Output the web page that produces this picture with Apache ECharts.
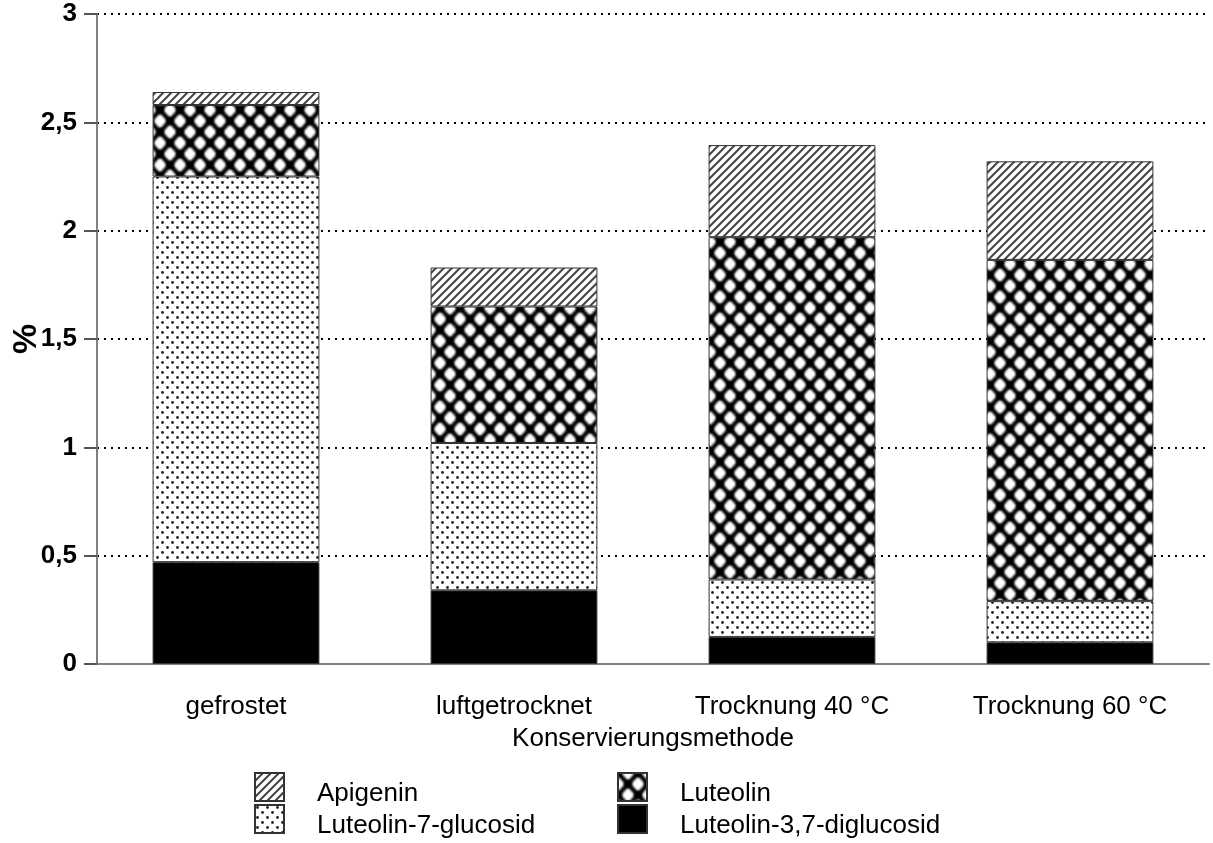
<!DOCTYPE html>
<html>
<head>
<meta charset="utf-8">
<script src="https://cdn.jsdelivr.net/npm/echarts@6/dist/echarts.min.js"></script>
<style>
html,body{margin:0;padding:0;background:#fff;}
#chart{width:1213px;height:843px;}
</style>
</head>
<body>
<div id="chart"></div>
<script>
// ---- data ----
var categories = ['gefrostet', 'luftgetrocknet', 'Trocknung 40 °C', 'Trocknung 60 °C'];
var seriesNames = ['Luteolin-3,7-diglucosid', 'Luteolin-7-glucosid', 'Luteolin', 'Apigenin'];
var diglucosid = [0.47, 0.34, 0.125, 0.10];
var glucosid   = [1.78, 0.68, 0.265, 0.19];
var luteolin   = [0.33, 0.63, 1.58, 1.575];
var apigenin   = [0.06, 0.18, 0.425, 0.455];
var yTicks = [0, 0.5, 1, 1.5, 2, 2.5, 3];

// ---- patterns ----
function makeCanvas(w, h) {
  var c = document.createElement('canvas');
  c.width = w; c.height = h;
  return c;
}
function dotsPattern() {
  var c = makeCanvas(10, 10), g = c.getContext('2d');
  g.fillStyle = '#fff'; g.fillRect(0, 0, 10, 10);
  g.fillStyle = '#222';
  [[2.5, 2.5], [7.5, 7.5]].forEach(function (p) {
    g.beginPath(); g.arc(p[0], p[1], 1.4, 0, Math.PI * 2); g.fill();
  });
  return c;
}
function crossPattern() {
  var W = 20, H = 22;
  var c = makeCanvas(W, H), g = c.getContext('2d');
  g.fillStyle = '#fff'; g.fillRect(0, 0, W, H);
  g.filter = 'blur(0.8px)';
  g.strokeStyle = '#000'; g.lineWidth = 4.5; g.lineCap = 'square';
  var lines = [[0, 0, W, H], [W, 0, 0, H], [-W, 0, W, 2 * H], [0, -H, 2 * W, H], [2 * W, 0, 0, 2 * H], [W, -H, -W, H]];
  lines.forEach(function (l) {
    g.beginPath(); g.moveTo(l[0], l[1]); g.lineTo(l[2], l[3]); g.stroke();
  });
  g.fillStyle = '#000';
  [[0, 0], [W, 0], [0, H], [W, H], [W / 2, H / 2]].forEach(function (p) {
    g.beginPath(); g.arc(p[0], p[1], 4, 0, Math.PI * 2); g.fill();
  });
  return c;
}
function diagPattern() {
  var s = 8;
  var c = makeCanvas(s, s), g = c.getContext('2d');
  g.fillStyle = '#fff'; g.fillRect(0, 0, s, s);
  g.strokeStyle = '#444'; g.lineWidth = 2;
  [[0, s, s, 0], [-1, 1, 1, -1], [s - 1, s + 1, s + 1, s - 1]].forEach(function (l) {
    g.beginPath(); g.moveTo(l[0], l[1]); g.lineTo(l[2], l[3]); g.stroke();
  });
  return c;
}
var fills = [
  '#000',
  { image: dotsPattern(), repeat: 'repeat' },
  { image: crossPattern(), repeat: 'repeat' },
  { image: diagPattern(), repeat: 'repeat' }
];
var values = [diglucosid, glucosid, luteolin, apigenin];

var series = seriesNames.map(function (name, i) {
  return {
    name: name,
    type: 'bar',
    stack: 'total',
    barWidth: '60%',
    data: values[i],
    itemStyle: { color: fills[i], borderColor: '#333', borderWidth: 1 },
    emphasis: { disabled: true }
  };
});

var font = '"Liberation Sans", Arial, sans-serif';
function legendAt(name, left, top) {
  return {
    data: [name], left: left, top: top, padding: 0,
    itemWidth: 29, itemHeight: 28,
    formatter: '{t|{name}}',
    textStyle: {
      fontFamily: font, fontSize: 26, color: '#000',
      rich: { t: { fontFamily: font, fontSize: 26, color: '#000', padding: [14, 0, 0, 28] } }
    },
    icon: 'rect', selectedMode: false
  };
}
var chart = echarts.init(document.getElementById('chart'), null, { renderer: 'canvas' });
chart.setOption({
  animation: false,
  backgroundColor: '#fff',
  grid: { left: 97, right: 4, top: 14, bottom: 179, containLabel: false, outerBoundsMode: 'none' },
  legend: [
    legendAt('Apigenin', 254, 772),
    legendAt('Luteolin-7-glucosid', 254, 804),
    legendAt('Luteolin', 617, 772),
    legendAt('Luteolin-3,7-diglucosid', 617, 804)
  ],
  xAxis: {
    type: 'category',
    data: categories,
    name: 'Konservierungsmethode',
    nameLocation: 'middle',
    nameMoveOverlap: false,
    nameGap: 75,
    nameTextStyle: { fontFamily: font, fontSize: 26, color: '#000', verticalAlign: 'middle' },
    axisLine: { lineStyle: { color: '#808080', width: 2 } },
    axisTick: { alignWithLabel: true, length: 12, lineStyle: { color: '#808080', width: 2 } },
    axisLabel: { fontFamily: font, fontSize: 26, color: '#000', margin: 30 },
    splitLine: { show: false }
  },
  yAxis: {
    type: 'value',
    min: 0, max: 3, interval: 0.5,
    name: '%',
    nameLocation: 'middle',
    nameMoveOverlap: false,
    nameRotate: 90,
    nameGap: 53,
    nameTextStyle: { fontFamily: font, fontSize: 34, fontWeight: 'bold', color: '#000' },
    axisLine: { show: true, lineStyle: { color: '#808080', width: 2 } },
    axisTick: { show: true, length: 13, lineStyle: { color: '#555', width: 2 } },
    axisLabel: {
      fontFamily: font, fontSize: 26, fontWeight: 'bold', color: '#000', margin: 20,
      formatter: function (v) { return yTicks.indexOf(v) >= 0 ? String(v).replace('.', ',') : ''; }
    },
    splitLine: { show: true, lineStyle: { color: '#000', type: [2, 5], width: 2 } }
  },
  series: series
});
</script>
</body>
</html>
